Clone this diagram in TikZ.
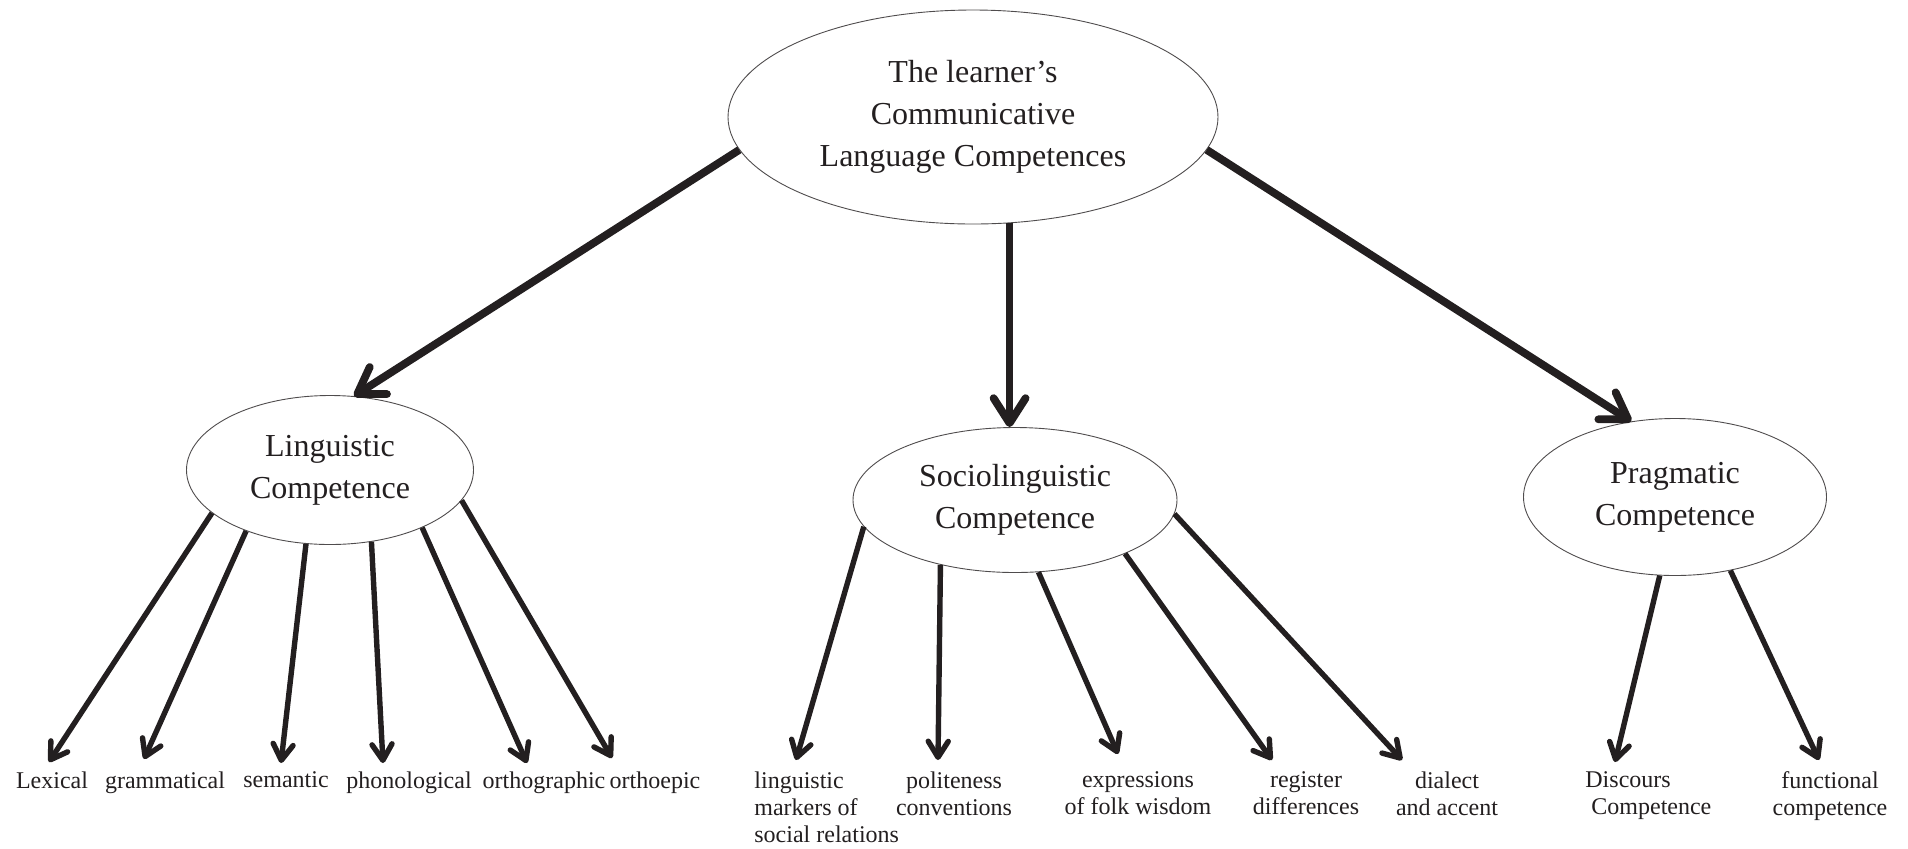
\documentclass[tikz,border=0pt]{standalone}
\usepackage{fontspec}
\setmainfont{Liberation Serif}
\usetikzlibrary{shapes.geometric,arrows.meta}
\definecolor{ink}{HTML}{231F20}
\tikzset{
  bubble/.style={draw=ink!80, line width=0.45pt, ellipse, inner sep=0pt, align=center, text=ink, font=\fontsize{16}{21}\selectfont},
  leaf/.style={inner sep=0pt, align=center, text=ink, anchor=north, font=\fontsize{12}{13.5}\selectfont},
  mainarrow/.style={line width=3.9pt, draw=ink, -{Straight Barb[round,length=12.5pt,width=16pt]}},
  subarrow/.style={line width=2.7pt, draw=ink, -{Straight Barb[round,length=8pt,width=10pt]}}
}
\begin{document}
\begin{tikzpicture}[x=0.5pt,y=-0.5pt]
\useasboundingbox (0,0) rectangle (1908,848);

\node[bubble, minimum width=245pt, minimum height=107pt] (learner) at (973,117) {The learner’s\\Communicative\\Language Competences};
\node[bubble, minimum width=143.5pt, minimum height=74.5pt] (ling) at (330,470) {Linguistic\\Competence};
\node[bubble, minimum width=162pt, minimum height=72.5pt] (socio) at (1015,500) {Sociolinguistic\\Competence};
\node[bubble, minimum width=151.5pt, minimum height=78.5pt] (prag) at (1675,497) {Pragmatic\\Competence};

\node[leaf] (lexical) at (52,771) {Lexical};
\node[leaf] (grammatical) at (165,771) {grammatical};
\node[leaf] (semantic) at (286,771) {semantic};
\node[leaf] (phonological) at (409,771) {phonological};
\node[leaf] (orthographic) at (544,771) {orthographic};
\node[leaf] (orthoepic) at (655,771) {orthoepic};

\node[leaf, align=left, anchor=north west] (markers) at (754,771) {linguistic\\markers of\\social relations};
\node[leaf] (politeness) at (954,771) {politeness\\conventions};
\node[leaf] (wisdom) at (1138,771) {expressions\\of folk wisdom};
\node[leaf] (register) at (1306,771) {register\\differences};
\node[leaf] (dialect) at (1447,771) {dialect\\and accent};

\node[leaf, align=left, anchor=north west] (discours) at (1585,771) {Discours\\\hspace*{3pt}Competence};
\node[leaf] (functional) at (1830,771) {functional\\competence};

\draw[mainarrow] (learner.188) -- (ling.72);
\draw[mainarrow] (learner.289) -- (learner.289 |- socio.north);
\draw[mainarrow] (learner.352) -- (prag.120);

\draw[subarrow] (ling.200) -- ([xshift=-1.5pt,yshift=4.5pt]lexical.north);
\draw[subarrow] (ling.216) -- ([xshift=-10.5pt,yshift=6pt]grammatical.north);
\draw[subarrow] (ling.252) -- ([xshift=-2.5pt,yshift=4pt]semantic.north);
\draw[subarrow] (ling.300) -- ([xshift=-13pt,yshift=4pt]phonological.north);
\draw[subarrow] (ling.328) -- ([xshift=-8.5pt,yshift=4pt]orthographic.north);
\draw[subarrow] (ling.347) -- ([xshift=-21.5pt,yshift=6.5pt]orthoepic.north);

\draw[subarrow] (socio.190) -- ([xshift=21pt,yshift=5.5pt]markers.north west);
\draw[subarrow] (socio.221) -- ([xshift=-8pt,yshift=5.5pt]politeness.north);
\draw[subarrow] (socio.288) -- ([xshift=-10pt,yshift=8.5pt]wisdom.north);
\draw[subarrow] (socio.334) -- ([xshift=-17pt,yshift=5.5pt]register.north);
\draw[subarrow] (socio.355) -- ([xshift=-22.5pt,yshift=5.5pt]dialect.north);

\draw[subarrow] (prag.259) -- ([xshift=15pt,yshift=4.5pt]discours.north west);
\draw[subarrow] (prag.307) -- ([xshift=-5.5pt,yshift=5.5pt]functional.north);
\end{tikzpicture}
\end{document}
